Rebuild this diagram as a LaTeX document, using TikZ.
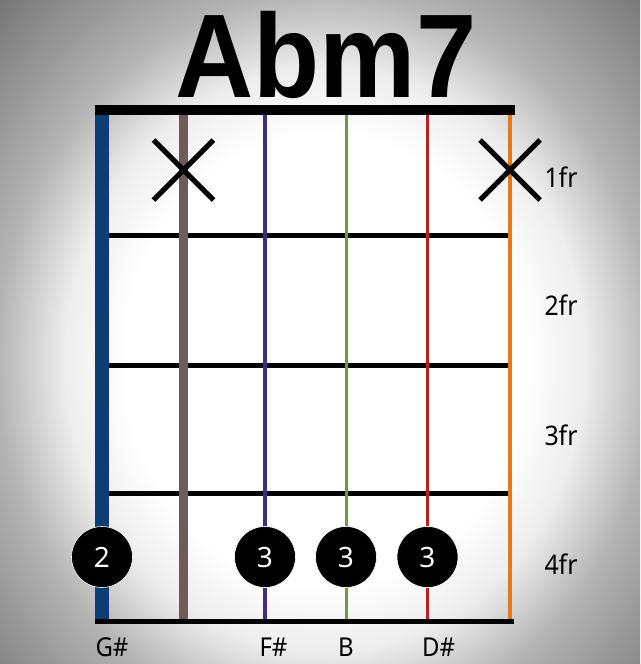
\documentclass[tikz,border=0pt]{standalone}
\usepackage{fontspec}
\setmainfont{Noto Sans}
\newfontfamily\titlefont{Liberation Sans}
\usetikzlibrary{calc}
\pgfdeclareradialshading{vignette}{\pgfpoint{0bp}{0bp}}{color(0bp)=(white); color(10bp)=(white); color(13bp)=(black!7); color(16.5bp)=(black!30); color(23.5bp)=(black!56); color(50bp)=(black!60)}
\begin{document}
\begin{tikzpicture}[x=1pt,y=-1pt,
  fret/.style={line width=5pt},
  str/.style={line width=#1},
  mute/.style={line width=5pt},
  dot/.style={circle,fill=black,draw=white,line width=0.6pt,minimum size=61pt,inner sep=0pt,text=white,font=\fontsize{28}{30}\selectfont},
  frlab/.style={font=\fontsize{27}{30}\selectfont,inner sep=0pt,xscale=0.92},
  notelab/.style={font=\fontsize{26}{28}\selectfont,inner sep=0pt,xscale=0.92}]
\definecolor{sA}{HTML}{0B3F72}
\definecolor{sB}{HTML}{6E5C5A}
\definecolor{sC}{HTML}{3E2F78}
\definecolor{sD}{HTML}{6E9A3C}
\definecolor{sE}{HTML}{B42222}
\definecolor{sF}{HTML}{E37A14}
\useasboundingbox (0,0) rectangle (640,664);
\begin{scope}
\clip (0,0) rectangle (640,664);
\shade[shading=vignette] (-175,-200) rectangle (825,920);
\end{scope}
% title
\node[font=\titlefont\bfseries\fontsize{119}{120}\selectfont,inner sep=0pt,anchor=base,xscale=0.91] (title) at (326,97) {Abm7};
% nut and bottom bar
\fill (95,105) rectangle (515,115);
\fill (95,619) rectangle (514,624);
% frets
\foreach \y/\n in {235.5/f1,365/f2,493/f3}{
  \coordinate (\n l) at (109,\y);
  \coordinate (\n r) at (508,\y);
  \draw[fret] (\n l) -- (\n r);
}
% strings
\foreach \x/\c/\w/\n in {102/sA/14pt/s1,183.5/sB/9pt/s2,265/sC/4pt/s3,346/sD/3pt/s4,427.5/sE/3.5pt/s5,510/sF/3.5pt/s6}{
  \coordinate (\n t) at (\x,115);
  \coordinate (\n b) at (\x,619);
  \draw[str=\w,draw=\c] (\n t) -- (\n b);
}
% mutes
\foreach \x/\n in {183.5/m1,510/m2}{
  \coordinate (\n c) at (\x,170);
  \draw[mute] ($(\n c)+(-30,-30)$) -- ($(\n c)+(30,30)$);
  \draw[mute] ($(\n c)+(-30,30)$) -- ($(\n c)+(30,-30)$);
}
% fret labels
\node[frlab] (fr1) at (561,177) {1fr};
\node[frlab] (fr2) at (561,305) {2fr};
\node[frlab] (fr3) at (561,435) {3fr};
\node[frlab] (fr4) at (561,564) {4fr};
% dots
\node[dot] (d1) at (102,557) {2};
\node[dot] (d2) at (265,557) {3};
\node[dot] (d3) at (346,557) {3};
\node[dot] (d4) at (427.5,557) {3};
% note labels
\node[notelab] (n1) at (112,647) {G\#};
\node[notelab] (n2) at (273.5,647) {F\#};
\node[notelab] (n3) at (346,647) {B};
\node[notelab] (n4) at (438.5,647) {D\#};
\end{tikzpicture}
\end{document}
